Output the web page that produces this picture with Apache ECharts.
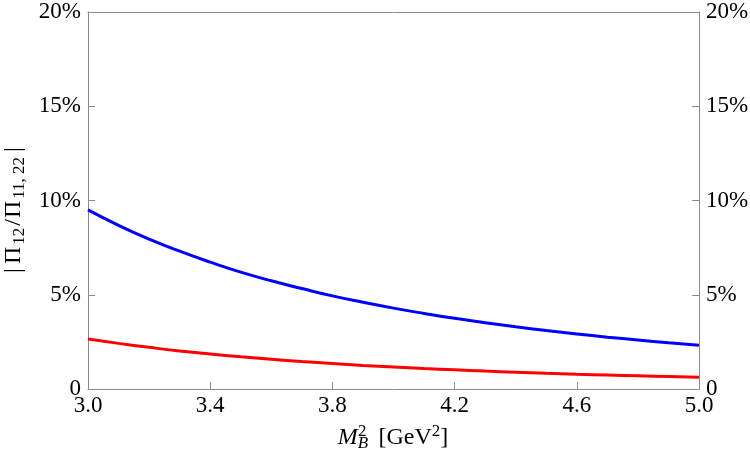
<!DOCTYPE html>
<html>
<head>
<meta charset="utf-8">
<script src="https://cdn.jsdelivr.net/npm/echarts@6/dist/echarts.min.js"></script>
<style>
  html, body { margin: 0; padding: 0; background: #fff; }
  #main { width: 750px; height: 463px; }
</style>
</head>
<body>
<div id="main"></div>
<script>
// M_B^2 values (GeV^2)
const mb2 = [3.0, 3.1, 3.2, 3.3, 3.4, 3.5, 3.6, 3.7, 3.8, 3.9, 4.0,
             4.1, 4.2, 4.3, 4.4, 4.5, 4.6, 4.7, 4.8, 4.9, 5.0]
// ratios in percent
const blueVals = [9.5, 8.68, 7.95, 7.31, 6.73, 6.20, 5.74, 5.33, 4.94, 4.60, 4.29,
                  4.01, 3.75, 3.52, 3.30, 3.10, 2.92, 2.75, 2.60, 2.45, 2.32]
const redVals = [2.65, 2.42, 2.21, 2.02, 1.86, 1.71, 1.58, 1.46, 1.35, 1.25, 1.17,
                 1.09, 1.02, 0.95, 0.89, 0.83, 0.78, 0.74, 0.70, 0.66, 0.62]
const yTicks = [0, 5, 10, 15, 20]

const font = 'Liberation Serif'
const axisGray = '#8a8a8a'

var myChart = echarts.init(document.getElementById('main'))

const yFmt = function (v) { return v === 0 ? '0' : v + '%' }

const yAxisBase = {
  type: 'value',
  min: yTicks[0],
  max: yTicks[yTicks.length - 1],
  interval: 5,
  splitLine: { show: false },
  axisLine: { show: true, lineStyle: { color: axisGray, width: 1 } },
  axisTick: { show: true, inside: true, length: 7, lineStyle: { color: axisGray } },
  axisLabel: { formatter: yFmt, fontFamily: font, fontSize: 23, color: '#000', margin: 7 }
}

// axis titles as graphic text (sub/superscripts via rich text)
const nameRich = {
  it: { fontFamily: font, fontSize: 24, fontStyle: 'italic', fill: '#000' },
  n: { fontFamily: font, fontSize: 24, fill: '#000' },
  P: { fontFamily: font, fontSize: 24, fill: '#000', padding: [0, 1, 0, 1] },
  bar: { fontFamily: font, fontSize: 24, fill: '#000', padding: [0, 3, 0, 3] },
  sub: { fontFamily: font, fontSize: 17, fill: '#000', padding: [12, 2, 0, 1] },
  subI: { fontFamily: font, fontSize: 17, fontStyle: 'italic', fill: '#000', padding: [12, 0, 0, 0] },
  sup: { fontFamily: font, fontSize: 17, fill: '#000', padding: [0, 0, 12, -10] },
  sup2: { fontFamily: font, fontSize: 17, fill: '#000', padding: [0, 0, 12, 0] }
}

var option = {
  animation: false,
  grid: { left: 88, right: 51, top: 12, bottom: 74, containLabel: false, outerBoundsMode: 'none' },
  xAxis: [{
    type: 'value',
    min: 3.0,
    max: 5.0,
    interval: 0.4,
    splitLine: { show: false },
    axisLine: { show: true, onZero: false, lineStyle: { color: axisGray, width: 1 } },
    axisTick: { show: true, inside: true, length: 7, lineStyle: { color: axisGray } },
    axisLabel: {
      formatter: function (v) { return v.toFixed(1) },
      fontFamily: font, fontSize: 23, color: '#000', margin: 5
    }
  }, {
    type: 'value',
    position: 'top',
    min: 3.0,
    max: 5.0,
    interval: 0.4,
    splitLine: { show: false },
    axisLine: { show: true, onZero: false, lineStyle: { color: axisGray, width: 1 } },
    axisTick: { show: false },
    axisLabel: { show: false }
  }],
  yAxis: [
    Object.assign({}, yAxisBase, { position: 'left' }),
    Object.assign({}, yAxisBase, { position: 'right' })
  ],
  graphic: [{
    type: 'text',
    x: 393,
    y: 438,
    style: {
      text: '{it|M}{subI|B}{sup|2}{n|  [GeV}{sup2|2}{n|]}',
      rich: nameRich,
      align: 'center',
      verticalAlign: 'middle'
    }
  }, {
    type: 'text',
    x: 14,
    y: 210,
    rotation: Math.PI / 2,
    style: {
      text: '{bar||}{P|Π}{sub|12}{n|/}{P|Π}{sub|11, 22}{bar||}',
      rich: nameRich,
      align: 'center',
      verticalAlign: 'middle'
    }
  }],
  series: [{
    name: 'blue',
    type: 'line',
    xAxisIndex: 0,
    yAxisIndex: 0,
    data: mb2.map(function (x, i) { return [x, blueVals[i]] }),
    smooth: true,
    showSymbol: false,
    lineStyle: { color: '#0000ff', width: 3 }
  }, {
    name: 'red',
    type: 'line',
    xAxisIndex: 0,
    yAxisIndex: 0,
    data: mb2.map(function (x, i) { return [x, redVals[i]] }),
    smooth: true,
    showSymbol: false,
    lineStyle: { color: '#ff0000', width: 3 }
  }]
}

myChart.setOption(option)
</script>
</body>
</html>
